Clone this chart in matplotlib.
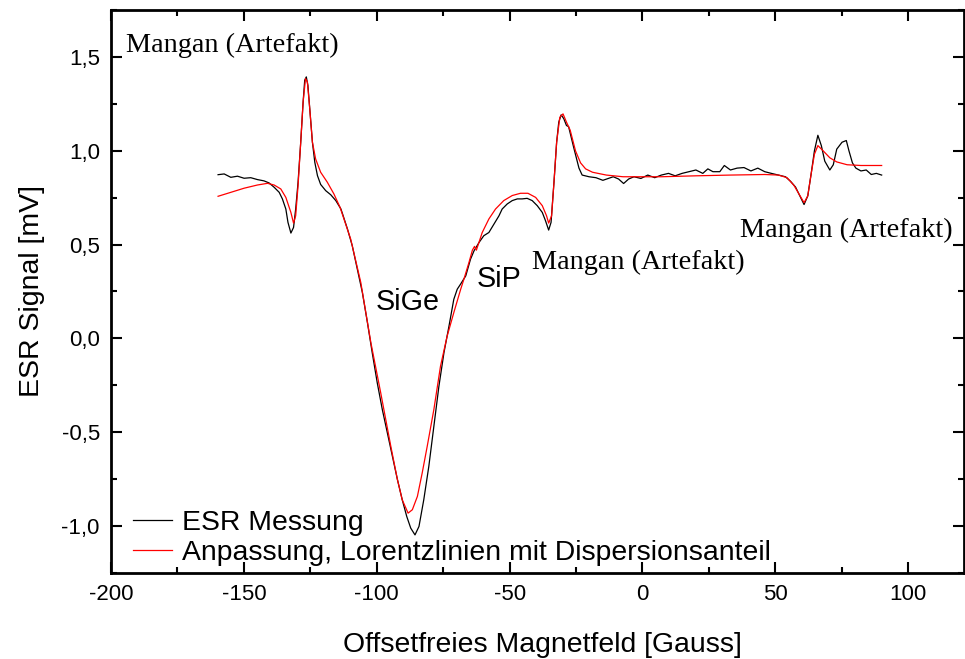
import matplotlib
matplotlib.use("Agg")
import matplotlib.pyplot as plt
from matplotlib.ticker import FixedLocator, MultipleLocator, FixedFormatter

# ---- data ----
meas_x = [-159.7, -157.4, -154.9, -152.4, -149.9, -147.4, -144.9, -142.4, -140.5, -138.6,
          -136.7, -135.5, -134.2, -133.4, -132.3, -131.3, -130.5, -129.6, -128.6, -127.7,
          -127.1, -126.5, -125.9, -125.1, -124.2, -123.3, -122.3, -121.1, -119.2, -117.3,
          -115.4, -113.5, -112.9, -111.0, -109.2, -107.3, -105.4, -103.5, -101.7, -99.8,
          -97.9, -96.0, -94.1, -92.2, -90.4, -88.7, -87.2, -85.6, -84.1, -82.3,
          -80.4, -78.5, -76.6, -74.7, -72.8, -71.0, -69.7, -68.4, -66.5, -64.7,
          -63.4, -61.5, -59.7, -57.8, -55.9, -54.0, -52.8, -50.9, -49.0, -47.1,
          -45.3, -43.4, -41.5, -39.6, -37.7, -36.5, -35.3, -34.4, -33.3, -32.3,
          -31.5, -30.6, -29.6, -28.6, -27.8, -25.9, -23.9, -22.7, -20.1, -17.5,
          -14.9, -12.9, -11.0, -9.0, -7.1, -5.2, -3.2, -0.6, 2.0, 4.6,
          7.1, 9.8, 12.3, 14.9, 17.5, 20.1, 22.7, 24.6, 26.5, 29.1,
          30.8, 33.1, 35.6, 38.2, 40.8, 43.4, 46.0, 48.5, 51.2, 53.8,
          55.7, 57.6, 59.5, 60.8, 62.2, 63.4, 64.7, 66.0, 67.3, 68.6,
          70.5, 71.8, 73.1, 75.1, 76.7, 77.7, 79.0, 80.3, 82.2, 84.2,
          86.1, 88.0, 90.0]
meas_y = [0.872, 0.876, 0.858, 0.864, 0.853, 0.856, 0.846, 0.839, 0.828, 0.805,
          0.778, 0.743, 0.689, 0.618, 0.561, 0.591, 0.689, 0.832, 1.045, 1.259,
          1.375, 1.393, 1.348, 1.206, 1.045, 0.938, 0.867, 0.820, 0.787, 0.765,
          0.734, 0.690, 0.665, 0.582, 0.493, 0.369, 0.244, 0.084, -0.076, -0.237,
          -0.379, -0.504, -0.629, -0.753, -0.860, -0.949, -1.011, -1.047, -1.002, -0.860,
          -0.682, -0.468, -0.255, -0.076, 0.066, 0.208, 0.262, 0.290, 0.333, 0.422,
          0.466, 0.511, 0.547, 0.564, 0.609, 0.653, 0.689, 0.716, 0.734, 0.743,
          0.743, 0.746, 0.734, 0.707, 0.671, 0.627, 0.577, 0.618, 0.832, 1.045,
          1.152, 1.191, 1.170, 1.134, 1.128, 1.018, 0.907, 0.870, 0.861, 0.856,
          0.842, 0.852, 0.861, 0.849, 0.825, 0.849, 0.861, 0.852, 0.870, 0.856,
          0.870, 0.879, 0.866, 0.879, 0.888, 0.897, 0.879, 0.903, 0.888, 0.888,
          0.921, 0.897, 0.907, 0.910, 0.892, 0.907, 0.888, 0.879, 0.870, 0.861,
          0.837, 0.806, 0.750, 0.713, 0.759, 0.870, 0.999, 1.082, 1.027, 0.944,
          0.897, 0.925, 1.008, 1.045, 1.054, 0.999, 0.935, 0.907, 0.892, 0.897,
          0.873, 0.879, 0.870]

fit_x = [-159.7, -154.9, -149.9, -144.9, -141.1, -138.6, -136.1, -134.2, -132.3, -131.3,
         -130.5, -129.6, -128.6, -127.7, -126.8, -126.1, -125.2, -124.2, -123.0, -121.1,
         -118.6, -116.1, -113.8, -109.8, -106.0, -102.2, -98.5, -94.7, -92.2, -90.4,
         -88.2, -86.6, -84.7, -82.9, -81.0, -78.5, -76.0, -73.5, -71.0, -68.4,
         -67.2, -65.3, -64.0, -63.2, -62.5, -60.3, -57.8, -55.3, -52.2, -49.0,
         -45.9, -43.1, -40.2, -37.7, -36.1, -35.3, -34.2, -33.3, -32.3, -31.1,
         -29.9, -28.6, -27.2, -25.2, -23.3, -21.4, -18.8, -13.6, -7.3, 7.1,
         20.1, 33.1, 46.0, 51.2, 54.4, 57.0, 58.9, 60.8, 62.2, 63.4,
         64.7, 66.0, 68.0, 70.5, 73.1, 77.0, 82.2, 90.0]
fit_y = [0.757, 0.778, 0.800, 0.817, 0.826, 0.817, 0.796, 0.751, 0.671, 0.614,
         0.653, 0.814, 1.045, 1.259, 1.384, 1.366, 1.223, 1.045, 0.956, 0.885,
         0.832, 0.769, 0.698, 0.529, 0.298, -0.023, -0.290, -0.575, -0.753, -0.860,
         -0.931, -0.913, -0.842, -0.718, -0.575, -0.379, -0.148, 0.012, 0.137, 0.262,
         0.315, 0.404, 0.470, 0.490, 0.470, 0.564, 0.636, 0.689, 0.734, 0.761,
         0.773, 0.773, 0.751, 0.707, 0.653, 0.614, 0.653, 0.832, 1.045, 1.178,
         1.196, 1.152, 1.109, 0.999, 0.935, 0.903, 0.885, 0.870, 0.861, 0.861,
         0.866, 0.870, 0.873, 0.870, 0.856, 0.815, 0.769, 0.723, 0.759, 0.870,
         0.981, 1.027, 0.999, 0.962, 0.940, 0.925, 0.921, 0.921]

x_ticks = [-200, -150, -100, -50, 0, 50, 100]
x_tick_labels = ["-200", "-150", "-100", "-50", "0", "50", "100"]
y_ticks = [-1.0, -0.5, 0.0, 0.5, 1.0, 1.5]
y_tick_labels = ["-1,0", "-0,5", "0,0", "0,5", "1,0", "1,5"]

series_labels = ["ESR Messung", "Anpassung, Lorentzlinien mit Dispersionsanteil"]
annotations = [("Mangan (Artefakt)", -194.4, 1.56, "serif"),
               ("Mangan (Artefakt)", -41.4, 0.405, "serif"),
               ("Mangan (Artefakt)", 36.7, 0.577, "serif"),
               ("SiGe", -100.4, 0.195, "sans"),
               ("SiP", -62.4, 0.317, "sans")]

# ---- figure ----
plt.rcParams['font.family'] = ['Liberation Sans', 'DejaVu Sans']
fig = plt.figure(figsize=(9.65, 6.59), dpi=100)
ax = fig.add_axes([0.115, 0.1305, 0.884, 0.8545])

ax.plot(meas_x, meas_y, color="black", lw=0.9, label=series_labels[0])
ax.plot(fit_x, fit_y, color="red", lw=0.9, label=series_labels[1])

ax.set_xlim(-200, 121)
ax.set_ylim(-1.25, 1.75)

ax.xaxis.set_major_locator(FixedLocator(x_ticks))
ax.xaxis.set_major_formatter(FixedFormatter(x_tick_labels))
ax.yaxis.set_major_locator(FixedLocator(y_ticks))
ax.yaxis.set_major_formatter(FixedFormatter(y_tick_labels))
ax.xaxis.set_minor_locator(MultipleLocator(25))
ax.yaxis.set_minor_locator(MultipleLocator(0.25))

ax.tick_params(which="both", direction="in", top=True, right=True, width=1.5,
               labelsize=16, pad=8)
ax.tick_params(which="major", length=8)
ax.tick_params(which="minor", length=4.5)
for sp in ax.spines.values():
    sp.set_linewidth(2.0)

ax.set_xlabel("Offsetfreies Magnetfeld [Gauss]", fontsize=20.4, labelpad=17)
ax.xaxis.set_label_coords(0.5 + 5 / 853, -0.105)
ax.set_ylabel("ESR Signal [mV]", fontsize=20.5, labelpad=12)

for txt, tx, ty, fam in annotations:
    if fam == "serif":
        ax.text(tx, ty, txt, fontsize=20.3, family=["Liberation Serif", "DejaVu Serif"],
                ha="left", va="center")
    else:
        ax.text(tx, ty, txt, fontsize=20.7, ha="left", va="center")

leg = ax.legend(loc="lower left", frameon=False, fontsize=20.4, handlelength=1.4,
                handletextpad=0.35, borderaxespad=0.0, labelspacing=0.12,
                bbox_to_anchor=(0.012, -0.007))

fig.savefig("out.png", dpi=100)
